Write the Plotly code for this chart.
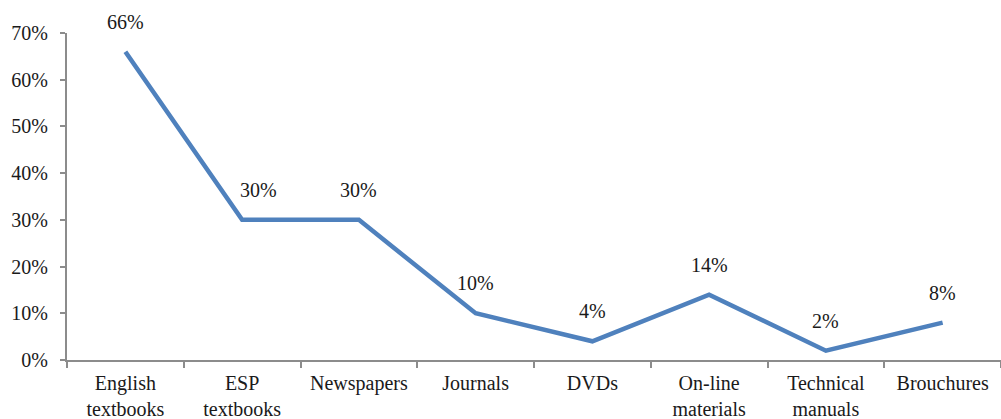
import plotly.graph_objects as go

categories = ["English<br>textbooks", "ESP<br>textbooks", "Newspapers", "Journals",
              "DVDs", "On-line<br>materials", "Technical<br>manuals", "Brouchures"]
values = [66, 30, 30, 10, 4, 14, 2, 8]
y_ticks = [0, 10, 20, 30, 40, 50, 60, 70]
y_tick_labels = [f"{v}%" for v in y_ticks]

FONT = "Liberation Serif"
AXIS = "#8c8c8c"
TEXT = "#1a1a1a"
LABEL_FONT = dict(family=FONT, size=20, color=TEXT)

fig = go.Figure()
fig.add_trace(go.Scatter(
    x=list(range(len(categories))), y=values, mode="lines",
    line=dict(color="#4f81bd", width=4.5), hoverinfo="skip", showlegend=False,
))

# value labels above each point; the ESP label is nudged right off the steep segment
label_xshift = {1: 16}
for i, v in enumerate(values):
    fig.add_annotation(x=i, y=v, text=f"{v}%", showarrow=False, yshift=30,
                       xshift=label_xshift.get(i, 0), font=LABEL_FONT)

fig.update_layout(
    template="none",
    width=1001, height=419,
    margin=dict(l=67, r=0, t=33, b=59),
    paper_bgcolor="white", plot_bgcolor="white",
    font=LABEL_FONT,
)
fig.update_xaxes(
    range=[-0.5, len(categories) - 0.5],
    tickmode="array", tickvals=list(range(len(categories))), ticktext=categories,
    ticks="", showgrid=False, zeroline=False,
    showline=True, linecolor=AXIS, linewidth=2,
    tickfont=LABEL_FONT, ticklabelstandoff=4,
)
# category boundary tick marks on the x axis
fig.update_xaxes(minor=dict(tickmode="array", tickvals=[i - 0.5 for i in range(len(categories) + 1)],
                            ticks="outside", ticklen=6, tickcolor=AXIS, tickwidth=1.5, showgrid=False))
fig.update_yaxes(
    range=[0, 70], tickmode="array", tickvals=y_ticks, ticktext=y_tick_labels,
    ticks="outside", ticklen=5, tickcolor=AXIS, tickwidth=1.5,
    showgrid=False, zeroline=False, showline=True, linecolor=AXIS, linewidth=2,
    tickfont=LABEL_FONT, ticklabelstandoff=8,
)

fig.write_html("out.html")
